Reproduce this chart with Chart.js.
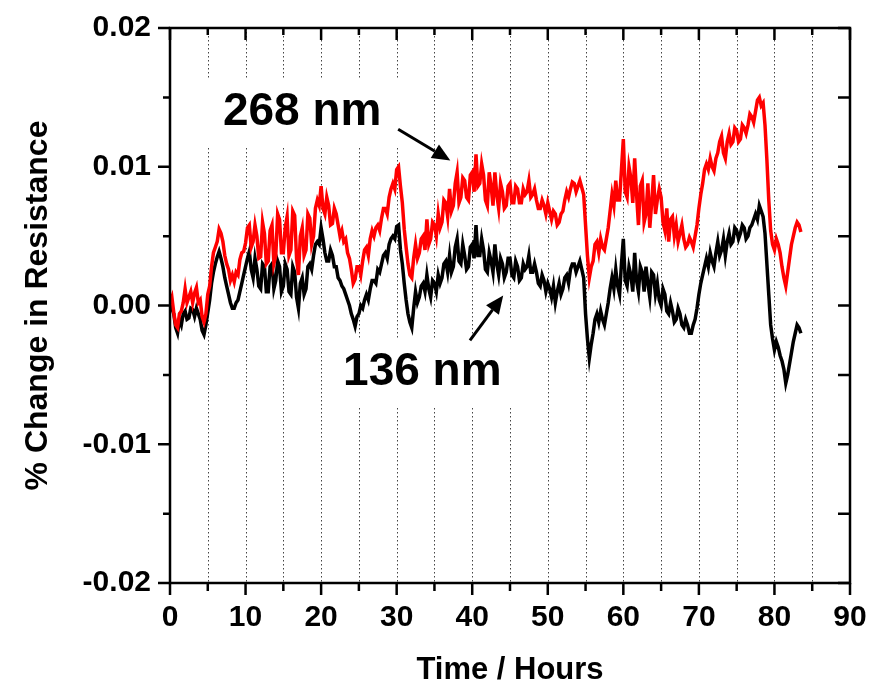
<!DOCTYPE html>
<html>
<head>
    <title>Resistance change vs time</title>
    <script src="https://cdn.jsdelivr.net/npm/chart.js"></script>
    <style>
        body { margin: 0; background: #fff; }
    </style>
</head>
<body>
    <canvas id="resChart" width="870" height="687"></canvas>

    <script>
        // sample times (hours)
        const hours = [
            0, 0.25, 0.5, 0.75, 1, 1.25, 1.5, 1.75, 2, 2.25, 2.5, 2.75, 3, 3.25, 3.5, 3.75, 4, 4.25, 4.5, 4.75,
            5, 5.25, 5.5, 5.75, 6, 6.25, 6.5, 6.75, 7, 7.25, 7.5, 7.75, 8, 8.25, 8.5, 8.75, 9, 9.25, 9.5, 9.75,
            10, 10.25, 10.5, 10.75, 11, 11.25, 11.5, 11.75, 12, 12.25, 12.5, 12.75, 13, 13.25, 13.5, 13.75, 14, 14.25, 14.5, 14.75,
            15, 15.25, 15.5, 15.75, 16, 16.25, 16.5, 16.75, 17, 17.25, 17.5, 17.75, 18, 18.25, 18.5, 18.75, 19, 19.25, 19.5, 19.75,
            20, 20.25, 20.5, 20.75, 21, 21.25, 21.5, 21.75, 22, 22.25, 22.5, 22.75, 23, 23.25, 23.5, 23.75, 24, 24.25, 24.5, 24.75,
            25, 25.25, 25.5, 25.75, 26, 26.25, 26.5, 26.75, 27, 27.25, 27.5, 27.75, 28, 28.25, 28.5, 28.75, 29, 29.25, 29.5, 29.75,
            30, 30.25, 30.5, 30.75, 31, 31.25, 31.5, 31.75, 32, 32.25, 32.5, 32.75, 33, 33.25, 33.5, 33.75, 34, 34.25, 34.5, 34.75,
            35, 35.25, 35.5, 35.75, 36, 36.25, 36.5, 36.75, 37, 37.25, 37.5, 37.75, 38, 38.25, 38.5, 38.75, 39, 39.25, 39.5, 39.75,
            40, 40.25, 40.5, 40.75, 41, 41.25, 41.5, 41.75, 42, 42.25, 42.5, 42.75, 43, 43.25, 43.5, 43.75, 44, 44.25, 44.5, 44.75,
            45, 45.25, 45.5, 45.75, 46, 46.25, 46.5, 46.75, 47, 47.25, 47.5, 47.75, 48, 48.25, 48.5, 48.75, 49, 49.25, 49.5, 49.75,
            50, 50.25, 50.5, 50.75, 51, 51.25, 51.5, 51.75, 52, 52.25, 52.5, 52.75, 53, 53.25, 53.5, 53.75, 54, 54.25, 54.5, 54.75,
            55, 55.25, 55.5, 55.75, 56, 56.25, 56.5, 56.75, 57, 57.25, 57.5, 57.75, 58, 58.25, 58.5, 58.75, 59, 59.25, 59.5, 59.75,
            60, 60.25, 60.5, 60.75, 61, 61.25, 61.5, 61.75, 62, 62.25, 62.5, 62.75, 63, 63.25, 63.5, 63.75, 64, 64.25, 64.5, 64.75,
            65, 65.25, 65.5, 65.75, 66, 66.25, 66.5, 66.75, 67, 67.25, 67.5, 67.75, 68, 68.25, 68.5, 68.75, 69, 69.25, 69.5, 69.75,
            70, 70.25, 70.5, 70.75, 71, 71.25, 71.5, 71.75, 72, 72.25, 72.5, 72.75, 73, 73.25, 73.5, 73.75, 74, 74.25, 74.5, 74.75,
            75, 75.25, 75.5, 75.75, 76, 76.25, 76.5, 76.75, 77, 77.25, 77.5, 77.75, 78, 78.25, 78.5, 78.75, 79, 79.25, 79.5, 79.75,
            80, 80.25, 80.5, 80.75, 81, 81.25, 81.5, 81.75, 82, 82.25, 82.5, 82.75, 83, 83.25, 83.5
        ];

        // % change in resistance, in units of 1e-3 (one row = 5 hours)
        const film268 = [
            0.2, 0.6, -0.5, -1.4, -1.6, -0.6, -0.4, 0.2, 1.2, 0.2, 0.6, 1.0, 0.2, 0.9, 1.3, 0.2, 0.4, -0.8, -1.2, -0.6,
            0.8, 1.4, 2.8, 3.8, 4.2, 4.6, 5.5, 5.2, 4.6, 3.6, 3.0, 2.6, 1.8, 2.2, 1.7, 2.4, 2.2, 3.3, 3.8, 3.9,
            4.5, 5.6, 5.8, 4.2, 4.6, 5.8, 5.0, 3.4, 3.5, 6.0, 5.2, 3.0, 3.2, 5.4, 5.8, 3.0, 3.6, 6.6, 6.2, 3.8,
            3.8, 5.6, 6.4, 3.6, 4.0, 6.8, 6.5, 3.4, 2.2, 5.0, 5.6, 3.6, 4.0, 6.6, 6.3, 4.4, 5.0, 7.0, 7.6, 7.2,
            8.6, 7.0, 6.6, 7.8, 7.2, 5.8, 5.9, 7.0, 6.6, 5.8, 5.0, 5.4, 4.6, 4.8, 3.8, 3.4, 2.6, 1.6, 1.9, 2.8,
            2.8, 2.2, 3.2, 4.0, 4.2, 3.6, 4.8, 5.4, 5.0, 5.6, 5.8, 5.4, 6.3, 7.0, 7.0, 6.6, 7.8, 8.4, 8.8, 8.4,
            9.8, 10.0, 8.6, 7.4, 5.5, 4.2, 3.0, 2.2, 2.0, 3.4, 4.4, 3.4, 3.8, 4.8, 5.0, 4.0, 6.2, 4.4, 4.8, 6.0,
            5.8, 5.0, 6.6, 5.6, 6.0, 7.6, 7.4, 6.4, 8.4, 6.8, 7.2, 8.8, 9.6, 7.4, 7.8, 9.2, 9.0, 7.8, 7.6, 9.4,
            9.6, 8.2, 10.9, 8.6, 8.8, 10.2, 9.4, 7.6, 7.2, 9.6, 8.6, 7.2, 9.6, 8.0, 7.0, 8.8, 8.2, 7.0, 7.2, 8.6,
            8.8, 7.4, 7.4, 8.6, 8.4, 7.4, 7.4, 8.4, 8.0, 8.2, 9.0, 7.8, 8.0, 8.4, 7.6, 7.0, 7.0, 7.6, 7.2, 6.6,
            7.4, 6.8, 6.2, 6.8, 6.6, 5.8, 6.0, 6.6, 6.8, 7.6, 8.2, 7.8, 8.4, 8.9, 8.8, 8.2, 8.6, 9.0, 8.5, 8.0,
            5.8, 3.6, 2.0, 2.8, 3.2, 4.4, 4.6, 3.8, 4.8, 4.2, 4.0, 4.8, 5.6, 6.8, 8.0, 7.2, 9.0, 7.6, 7.6, 9.8,
            12.0, 8.2, 7.8, 10.0, 9.2, 7.4, 10.6, 8.0, 5.8, 8.6, 9.0, 6.0, 6.6, 8.8, 5.6, 7.4, 9.4, 6.6, 7.6, 8.4,
            7.8, 6.0, 5.4, 7.0, 4.6, 6.2, 6.4, 5.0, 5.8, 4.6, 5.2, 5.8, 4.8, 4.2, 4.4, 4.9, 4.6, 4.2, 5.0, 5.8,
            7.0, 8.0, 8.8, 9.8, 10.2, 9.8, 10.6, 10.0, 9.7, 10.6, 11.0, 11.8, 12.2, 11.0, 10.6, 11.8, 12.4, 11.6, 11.8, 12.8,
            12.6, 11.8, 12.0, 13.0, 12.8, 12.4, 13.0, 13.8, 13.6, 13.2, 14.0, 14.8, 15.0, 14.4, 14.6, 13.0, 10.5, 7.6, 5.4, 4.4,
            4.0, 4.8, 4.4, 3.8, 2.8, 2.0, 1.4, 2.4, 3.4, 4.4, 5.0, 5.6, 6.0, 5.8, 5.3
        ];

        const film136 = [
            0.5, -0.2, -0.6, -1.6, -2.0, -1.0, -1.4, -0.6, -0.4, -1.0, -0.9, -0.2, -0.3, -0.8, -0.2, -0.6, -1.0, -1.8, -2.1, -1.4,
            -0.5, 0.4, 1.6, 2.4, 3.0, 3.5, 3.9, 3.4, 2.8, 2.0, 1.4, 0.8, 0.2, -0.2, -0.2, 0.2, 0.4, 1.0, 1.6, 2.2,
            2.8, 3.4, 3.9, 2.6, 2.0, 3.4, 2.6, 1.4, 1.2, 3.0, 2.8, 1.0, 1.0, 2.8, 3.0, 1.2, 1.8, 3.2, 2.8, 1.0,
            1.4, 3.0, 2.6, 1.0, 0.8, 2.8, 2.4, 0.6, -0.2, 1.6, 2.0, 0.8, 1.2, 2.8, 3.0, 2.6, 3.6, 4.4, 4.6, 4.4,
            5.6, 4.8, 3.8, 3.2, 3.2, 4.0, 3.6, 2.8, 2.8, 2.0, 1.8, 1.4, 1.2, 0.8, 0.4, 0.0, -0.6, -1.0, -1.5, -0.8,
            -0.6, 0.0, -0.2, 0.4, 0.8, 0.4, 1.2, 1.8, 1.8, 1.6, 2.6, 2.4, 3.0, 3.6, 3.8, 3.4, 4.4, 4.8, 5.0, 4.8,
            5.7, 5.8, 4.0, 3.0, 1.6, 0.4, -0.6, -1.2, -1.6, -0.2, 1.0, 0.2, 0.6, 1.4, 1.6, 1.0, 2.2, 1.2, 0.6, 1.8,
            1.6, 1.0, 2.2, 1.6, 2.0, 3.0, 3.2, 2.4, 3.6, 2.4, 2.8, 4.2, 4.8, 3.2, 3.0, 4.4, 3.6, 2.6, 2.8, 4.2,
            4.4, 3.4, 5.8, 3.6, 3.6, 4.8, 4.0, 2.6, 2.4, 3.8, 3.2, 2.4, 4.4, 3.0, 2.2, 3.4, 3.0, 2.0, 2.4, 3.4,
            3.4, 2.2, 2.0, 3.2, 2.8, 1.8, 2.0, 3.0, 2.6, 2.8, 3.6, 2.4, 2.4, 3.0, 2.4, 1.6, 1.4, 2.2, 1.8, 1.0,
            1.6, 1.2, 0.6, 1.4, 0.2, 1.0, 1.6, 0.8, 1.2, 2.0, 2.2, 1.6, 2.6, 3.0, 3.0, 2.4, 2.8, 3.2, 2.6, 2.0,
            -0.6, -2.4, -3.8, -2.8, -2.0, -1.0, -0.6, -1.2, -0.4, -1.0, -1.4, -0.6, 0.2, 1.2, 2.0, 1.2, 2.6, 1.4, 0.8, 3.0,
            4.8, 1.8, 1.4, 2.8, 2.2, 1.0, 3.8, 1.8, 1.0, 2.8, 2.4, 1.0, 2.8, 1.6, 0.6, 2.4, 2.2, 0.8, 1.6, 0.4,
            0.0, 1.2, 0.8, -0.4, -0.6, 0.2, -0.4, -1.2, -1.0, -0.2, -0.6, -1.4, -1.6, -1.0, -1.4, -2.0, -2.0, -1.4, -1.0, -0.2,
            0.8, 1.6, 2.2, 2.8, 3.4, 2.8, 3.8, 3.2, 2.8, 3.8, 4.6, 3.6, 4.0, 4.8, 3.6, 4.6, 5.2, 4.4, 4.6, 5.6,
            5.4, 4.8, 5.2, 5.8, 5.6, 4.8, 5.0, 5.6, 5.8, 6.2, 6.6, 6.2, 7.2, 6.8, 6.4, 5.2, 3.0, 0.8, -1.4, -2.4,
            -3.2, -2.6, -3.0, -3.6, -4.0, -4.6, -5.6, -5.0, -4.2, -3.4, -2.6, -2.0, -1.4, -1.6, -2.0
        ];

        const xTicks = [0, 10, 20, 30, 40, 50, 60, 70, 80, 90];
        const yTicks = [-0.02, -0.01, 0.00, 0.01, 0.02];

        // text labels with arrows, in data coordinates
        const notes = [
            { text: '268 nm', x: 17.5, y: 0.0139, from: [30.2, 0.0127], to: [37.1, 0.01045] },
            { text: '136 nm', x: 33.4, y: -0.0048, from: [39.7, -0.00252], to: [44.1, 0.00072] }
        ];

        const FONT = '"Liberation Sans", Arial, Helvetica, sans-serif';

        function toPoints(vals) {
            return vals.map((v, i) => ({ x: hours[i], y: v / 1000 }));
        }

        // dotted grid + white boxes behind the labels
        const backdrop = {
            id: 'backdrop',
            beforeDatasetsDraw(chart) {
                const { ctx, chartArea: a, scales: { x, y } } = chart;
                ctx.save();
                ctx.strokeStyle = '#444';
                ctx.lineWidth = 1;
                ctx.setLineDash([1.5, 2.5]);
                for (let h = 5; h < 90; h += 5) {
                    const px = Math.round(x.getPixelForValue(h)) + 0.5;
                    ctx.beginPath();
                    ctx.moveTo(px, a.top);
                    ctx.lineTo(px, a.bottom);
                    ctx.stroke();
                }
                ctx.setLineDash([]);
                ctx.font = 'bold 46px ' + FONT;
                ctx.fillStyle = '#fff';
                notes.forEach(n => {
                    const w = ctx.measureText(n.text).width;
                    const cx = x.getPixelForValue(n.x), cy = y.getPixelForValue(n.y);
                    ctx.fillRect(cx - w / 2 - 18, cy - 34, w + 36, 68);
                });
                ctx.restore();
            }
        };

        // frame, tick marks, labels and arrows
        const frame = {
            id: 'frame',
            afterDraw(chart) {
                const { ctx, chartArea: a, scales: { x, y } } = chart;
                ctx.save();
                ctx.strokeStyle = '#000';
                ctx.lineWidth = 2.5;
                ctx.strokeRect(a.left, a.top, a.right - a.left, a.bottom - a.top);

                ctx.beginPath();
                for (let h = 0; h <= 90; h += 5) {
                    const px = x.getPixelForValue(h);
                    const major = h % 10 === 0;
                    ctx.moveTo(px, a.bottom);
                    ctx.lineTo(px, a.bottom + (major ? 12 : 8));
                    ctx.moveTo(px, a.top);
                    ctx.lineTo(px, a.top + (major ? 12 : 7));
                }
                for (let k = -4; k <= 4; k++) {
                    const py = y.getPixelForValue(k * 0.005);
                    const major = k % 2 === 0;
                    ctx.moveTo(a.left, py);
                    ctx.lineTo(a.left - (major ? 12 : 7), py);
                    ctx.moveTo(a.right, py);
                    ctx.lineTo(a.right - 12, py);
                }
                ctx.stroke();

                ctx.fillStyle = '#000';
                ctx.font = 'bold 46px ' + FONT;
                ctx.textAlign = 'center';
                ctx.textBaseline = 'middle';
                notes.forEach(n => {
                    ctx.fillText(n.text, x.getPixelForValue(n.x), y.getPixelForValue(n.y));
                    const x0 = x.getPixelForValue(n.from[0]), y0 = y.getPixelForValue(n.from[1]);
                    const x1 = x.getPixelForValue(n.to[0]), y1 = y.getPixelForValue(n.to[1]);
                    const ang = Math.atan2(y1 - y0, x1 - x0);
                    const headLen = 18, headW = 8;
                    const bx = x1 - headLen * Math.cos(ang), by = y1 - headLen * Math.sin(ang);
                    ctx.lineWidth = 3;
                    ctx.beginPath();
                    ctx.moveTo(x0, y0);
                    ctx.lineTo(bx, by);
                    ctx.stroke();
                    ctx.beginPath();
                    ctx.moveTo(x1, y1);
                    ctx.lineTo(bx + headW * Math.sin(ang), by - headW * Math.cos(ang));
                    ctx.lineTo(bx - headW * Math.sin(ang), by + headW * Math.cos(ang));
                    ctx.closePath();
                    ctx.fill();
                });
                ctx.restore();
            }
        };

        const ctx = document.getElementById('resChart').getContext('2d');

        new Chart(ctx, {
            type: 'line',
            data: {
                datasets: [
                    {
                        label: '268 nm',
                        data: toPoints(film268),
                        borderColor: '#ff0000',
                        borderWidth: 3.5,
                        pointRadius: 0,
                        tension: 0,
                        fill: false
                    },
                    {
                        label: '136 nm',
                        data: toPoints(film136),
                        borderColor: '#000000',
                        borderWidth: 3.5,
                        pointRadius: 0,
                        tension: 0,
                        fill: false
                    }
                ]
            },
            options: {
                responsive: false,
                animation: false,
                layout: { padding: { top: 28, right: 20, left: 0, bottom: 0 } },
                plugins: {
                    legend: { display: false },
                    tooltip: { enabled: false }
                },
                scales: {
                    x: {
                        type: 'linear',
                        min: 0,
                        max: 90,
                        afterBuildTicks: s => { s.ticks = xTicks.map(v => ({ value: v })); },
                        afterFit: s => { s.height = 104; s.paddingLeft = 0; s.paddingRight = 0; },
                        grid: { display: false, drawTicks: false },
                        border: { display: false },
                        ticks: {
                            padding: 17,
                            color: '#000',
                            maxRotation: 0,
                            font: { family: FONT, size: 30, weight: 'bold' }
                        },
                        title: {
                            display: true,
                            text: 'Time / Hours',
                            color: '#000',
                            padding: { top: 0, bottom: 1 },
                            font: { family: FONT, size: 31, weight: 'bold', lineHeight: 1 }
                        }
                    },
                    y: {
                        min: -0.02,
                        max: 0.02,
                        afterBuildTicks: s => { s.ticks = yTicks.map(v => ({ value: v })); },
                        afterFit: s => { s.width = 170; s.paddingTop = 0; s.paddingBottom = 0; },
                        grid: { display: false, drawTicks: false },
                        border: { display: false },
                        ticks: {
                            padding: 19,
                            color: '#000',
                            font: { family: FONT, size: 30, weight: 'bold' },
                            callback: v => (Math.abs(v) < 1e-9 ? 0 : v).toFixed(2)
                        },
                        title: {
                            display: true,
                            text: '% Change in Resistance',
                            color: '#000',
                            padding: { top: 22, bottom: 0 },
                            font: { family: FONT, size: 32, weight: 'bold', lineHeight: 1 }
                        }
                    }
                }
            },
            plugins: [backdrop, frame]
        });
    </script>
</body>
</html>
